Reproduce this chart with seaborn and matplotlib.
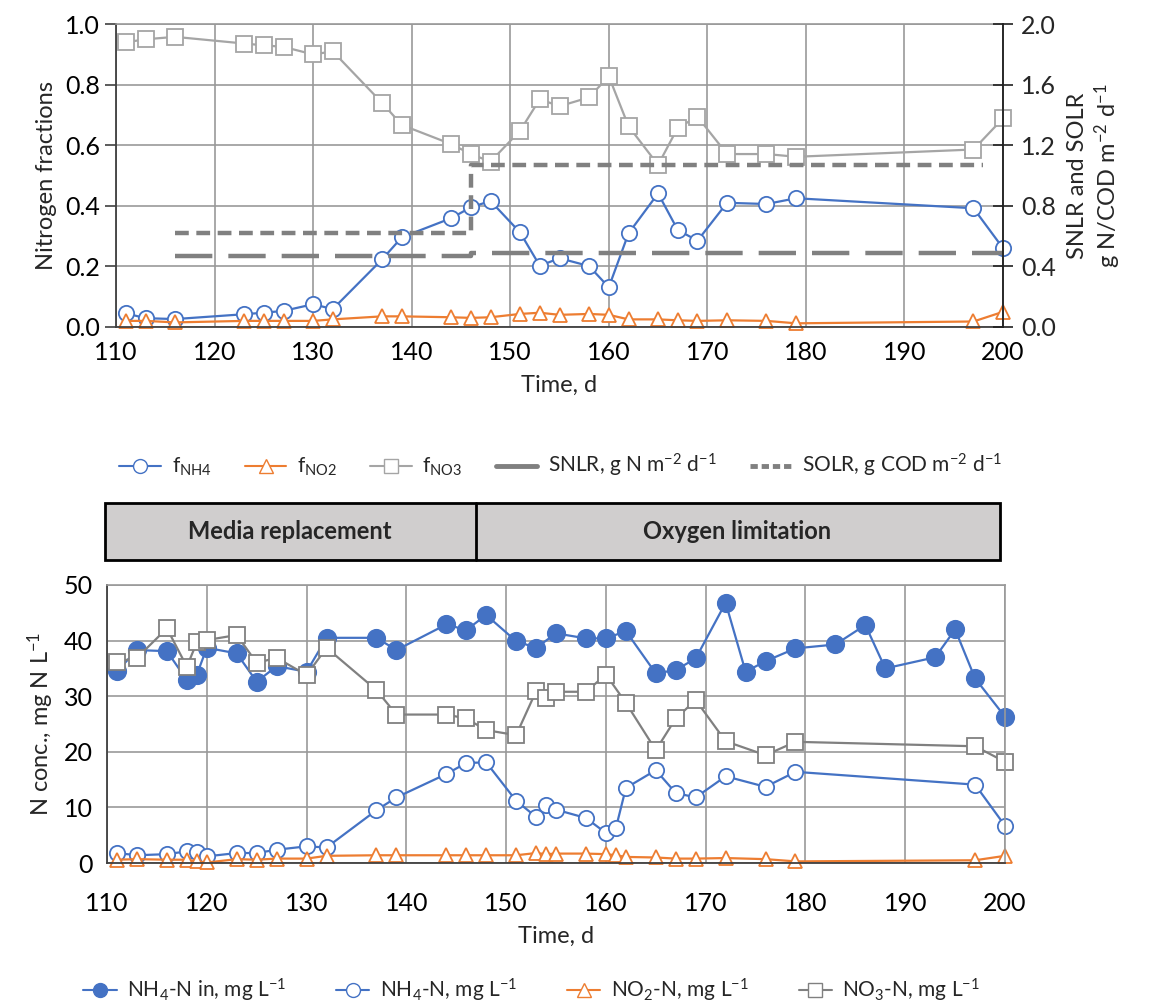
import matplotlib
matplotlib.use("Agg")
import numpy as np
import pandas as pd
import matplotlib.pyplot as plt
import seaborn as sns
from matplotlib.lines import Line2D
from matplotlib.patches import Rectangle
from matplotlib.ticker import FormatStrFormatter

# ---- top panel: nitrogen fractions in effluent ----
days_top = [111, 113, 116, 123, 125, 127, 130, 132, 137, 139, 144, 146, 148,
            151, 153, 155, 158, 160, 162, 165, 167, 169, 172, 176, 179, 197, 200]
f_nh4 = [0.045, 0.029, 0.026, 0.042, 0.047, 0.053, 0.075, 0.059, 0.223, 0.296,
         0.359, 0.395, 0.416, 0.312, 0.202, 0.227, 0.201, 0.131, 0.309, 0.441,
         0.320, 0.285, 0.410, 0.406, 0.425, 0.392, 0.260]
f_no2 = [0.020, 0.020, 0.015, 0.020, 0.020, 0.020, 0.020, 0.025, 0.035, 0.035,
         0.032, 0.030, 0.032, 0.043, 0.047, 0.040, 0.043, 0.040, 0.025, 0.025,
         0.022, 0.020, 0.022, 0.020, 0.012, 0.018, 0.050]
f_no3 = [0.940, 0.950, 0.958, 0.936, 0.930, 0.925, 0.900, 0.910, 0.740, 0.667,
         0.604, 0.571, 0.546, 0.648, 0.752, 0.729, 0.758, 0.828, 0.663, 0.535,
         0.658, 0.694, 0.571, 0.571, 0.562, 0.586, 0.689]

# surface loading rates (right axis), step change on day 146
solr_days = [116, 146, 146, 198]
solr = [0.62, 0.62, 1.07, 1.07]
snlr_days = [116, 146, 146, 200]
snlr = [0.47, 0.47, 0.49, 0.49]

# ---- bottom panel: concentrations ----
days_in = [111, 113, 116, 118, 119, 120, 123, 125, 127, 130, 132, 137, 139, 144,
           146, 148, 151, 153, 155, 158, 160, 162, 165, 167, 169, 172, 174, 176,
           179, 183, 186, 188, 193, 195, 197, 200]
nh4_in = [34.5, 38.3, 38.1, 32.9, 33.9, 38.7, 37.7, 32.6, 35.4, 34.4, 40.5, 40.5,
          38.3, 42.9, 41.9, 44.6, 39.9, 38.7, 41.3, 40.4, 40.4, 41.7, 34.1, 34.7,
          36.8, 46.8, 34.4, 36.3, 38.6, 39.3, 42.8, 35.0, 37.0, 42.0, 33.2, 26.3]

days_out = [111, 113, 116, 118, 119, 120, 123, 125, 127, 130, 132, 137, 139, 144,
            146, 148, 151, 153, 154, 155, 158, 160, 161, 162, 165, 167, 169, 172,
            176, 179, 197, 200]
nh4_out = [1.8, 1.4, 1.6, 2.1, 1.9, 1.2, 1.8, 1.8, 2.4, 3.0, 2.8, 9.5, 11.8, 16.0,
           18.0, 18.1, 11.2, 8.3, 10.5, 9.6, 8.1, 5.4, 6.3, 13.5, 16.7, 12.6, 11.8,
           15.6, 13.7, 16.4, 14.1, 6.7]
no2_out = [0.6, 0.7, 0.6, 0.6, 0.3, 0.1, 0.7, 0.6, 0.8, 0.8, 1.3, 1.4, 1.4, 1.4,
           1.4, 1.4, 1.4, 1.8, 1.6, 1.7, 1.7, 1.6, 1.4, 1.1, 1.0, 0.8, 0.8, 0.9,
           0.7, 0.3, 0.5, 1.3]

days_no3 = [111, 113, 116, 118, 119, 120, 123, 125, 127, 130, 132, 137, 139, 144,
            146, 148, 151, 153, 154, 155, 158, 160, 162, 165, 167, 169, 172, 176,
            179, 197, 200]
no3_out = [36.2, 36.9, 42.2, 35.3, 39.7, 40.1, 41.0, 36.0, 36.9, 33.8, 38.7, 31.1,
           26.7, 26.7, 26.0, 23.9, 23.0, 30.9, 29.7, 30.8, 30.8, 33.9, 28.8, 20.3,
           26.0, 29.3, 21.9, 19.4, 21.8, 21.0, 18.2]

BLUE = "#4472C4"
ORANGE = "#ED7D31"
LGRAY = "#A5A5A5"
DGRAY = "#808080"
GRID = "#999999"

sns.set_theme(style="white")
plt.rcParams["font.family"] = ["Lato", "DejaVu Sans"]
plt.rcParams["mathtext.fontset"] = "custom"
plt.rcParams["mathtext.rm"] = "Lato"
plt.rcParams["mathtext.it"] = "Lato"
plt.rcParams["mathtext.bf"] = "Lato:bold"

fig = plt.figure(figsize=(11.56, 10.06), dpi=100)
ax1 = fig.add_axes([0.1003, 0.675, 0.7674, 0.301])
ax3 = fig.add_axes([0.0926, 0.1421, 0.7768, 0.2764])


def line(ax, x, y, color, marker, ms, face="white", edge=None, lw=1.6):
    df = pd.DataFrame({"day": x, "val": y})
    sns.lineplot(data=df, x="day", y="val", ax=ax, color=color, marker=marker,
                 markersize=ms, markerfacecolor=face,
                 markeredgecolor=edge or color, markeredgewidth=1.3,
                 linewidth=lw, estimator=None, sort=False, clip_on=False)


def style_axes(ax, ymax, ystep, fmt):
    ax.set_xlim(110, 200)
    ax.set_ylim(0, ymax)
    ax.set_xticks(np.arange(110, 201, 10))
    ax.set_yticks(np.arange(0, ymax + 1e-9, ystep))
    ax.yaxis.set_major_formatter(FormatStrFormatter(fmt))
    ax.grid(True, color=GRID, linewidth=1.2)
    ax.set_axisbelow(True)
    for side in ["top", "right"]:
        ax.spines[side].set_color(GRID)
        ax.spines[side].set_linewidth(1.2)
    for side in ["left", "bottom"]:
        ax.spines[side].set_color("#404040")
        ax.spines[side].set_linewidth(1.3)
    ax.tick_params(axis="both", labelsize=18, colors="black")
    ax.set_xlabel("Time, d", fontsize=17, labelpad=8)


# top panel
line(ax1, days_top, f_nh4, BLUE, "o", 11)
line(ax1, days_top, f_no2, ORANGE, "^", 10)
line(ax1, days_top, f_no3, LGRAY, "s", 11.5)
style_axes(ax1, 1.0, 0.2, "%.1f")
ax1.tick_params(axis="y", direction="out", length=8, width=1.2, left=True, color="#404040")
ax1.tick_params(axis="x", length=0, pad=10)
ax1.set_ylabel("Nitrogen fractions", fontsize=17, labelpad=6)

ax2 = ax1.twinx()
sns.lineplot(x=snlr_days, y=snlr, ax=ax2, color=DGRAY, linewidth=3.2,
             estimator=None, sort=False, dashes=False)
ax2.lines[-1].set_dashes((8.4, 3.6))
ax2.lines[-1].set_dash_capstyle("butt")
sns.lineplot(x=solr_days, y=solr, ax=ax2, color=DGRAY, linewidth=3.2,
             estimator=None, sort=False)
ax2.lines[-1].set_dashes((3.1, 1.7))
ax2.set_ylim(0, 2.0)
ax2.set_yticks(np.arange(0, 2.01, 0.4))
ax2.yaxis.set_major_formatter(FormatStrFormatter("%.1f"))
ax2.spines["right"].set_color("#202020")
ax2.spines["right"].set_linewidth(1.3)
for side in ["top", "left", "bottom"]:
    ax2.spines[side].set_visible(False)
ax2.tick_params(axis="y", direction="inout", length=14, width=1.2, right=True,
                labelsize=18, color="#202020", pad=6)
ax2.set_ylabel("SNLR and SOLR\ng N/COD m$^{-2}$ d$^{-1}$", fontsize=17,
               labelpad=8, rotation=90, multialignment="center")
ax2.set_xlim(110, 200)

# top legend
leg1 = [
    Line2D([], [], color=BLUE, marker="o", ms=10, mfc="white", mec=BLUE, lw=1.5),
    Line2D([], [], color=ORANGE, marker="^", ms=10, mfc="white", mec=ORANGE, lw=1.5),
    Line2D([], [], color=LGRAY, marker="s", ms=10, mfc="white", mec=LGRAY, lw=1.5),
    Line2D([], [], color=DGRAY, lw=3.5),
    Line2D([], [], color=DGRAY, lw=3.5, dashes=(1.5, 0.8)),
]
lab1 = ["f$_{\\mathrm{NH4}}$", "f$_{\\mathrm{NO2}}$", "f$_{\\mathrm{NO3}}$",
        "SNLR, g N m$^{-2}$ d$^{-1}$", "SOLR, g COD m$^{-2}$ d$^{-1}$"]
fig.legend(leg1, lab1, loc="center", bbox_to_anchor=(0.485, 0.537), ncol=5,
           frameon=False, fontsize=15, handlelength=2.0, columnspacing=1.6,
           handletextpad=0.5)

# phase box
fig.add_artist(Rectangle((0.0908, 0.4433), 0.7743, 0.0567, transform=fig.transFigure,
                         facecolor="#D0CECE", edgecolor="black", linewidth=2))
fig.add_artist(Line2D([0.4115, 0.4115], [0.4433, 0.5], transform=fig.transFigure,
                      color="black", linewidth=2))
fig.text(0.251, 0.4716, "Media replacement", ha="center", va="center",
         fontsize=17, fontweight="bold")
fig.text(0.638, 0.4716, "Oxygen limitation", ha="center", va="center",
         fontsize=17, fontweight="bold")

# bottom panel
line(ax3, days_in, nh4_in, BLUE, "o", 12.5, face=BLUE)
line(ax3, days_out, nh4_out, BLUE, "o", 11)
line(ax3, days_out, no2_out, ORANGE, "^", 10)
line(ax3, days_no3, no3_out, DGRAY, "s", 11.5)
style_axes(ax3, 50, 10, "%d")
ax3.tick_params(axis="y", length=0, pad=10)
ax3.tick_params(axis="x", length=0, pad=21)
ax3.set_ylabel("N conc., mg N L$^{-1}$", fontsize=17, labelpad=6)

leg2 = [
    Line2D([], [], color=BLUE, marker="o", ms=10, mfc=BLUE, mec=BLUE, lw=1.5),
    Line2D([], [], color=BLUE, marker="o", ms=10, mfc="white", mec=BLUE, lw=1.5),
    Line2D([], [], color=ORANGE, marker="^", ms=10, mfc="white", mec=ORANGE, lw=1.5),
    Line2D([], [], color=DGRAY, marker="s", ms=10, mfc="white", mec=DGRAY, lw=1.5),
]
lab2 = ["NH$_4$-N in, mg L$^{-1}$", "NH$_4$-N, mg L$^{-1}$",
        "NO$_2$-N, mg L$^{-1}$", "NO$_3$-N, mg L$^{-1}$"]
fig.legend(leg2, lab2, loc="center", bbox_to_anchor=(0.46, 0.016), ncol=4,
           frameon=False, fontsize=15, handlelength=1.6, columnspacing=2.4,
           handletextpad=0.5)

fig.savefig("out.png", dpi=100)
